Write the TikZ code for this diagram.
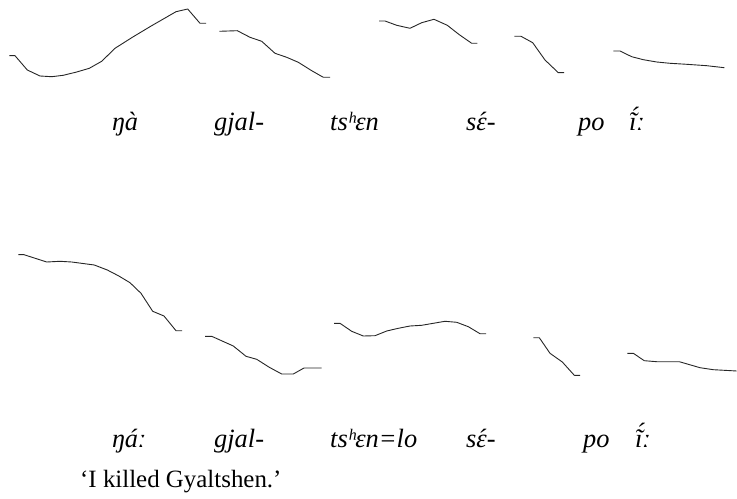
\documentclass[tikz,border=0pt]{standalone}
\usepackage{fontspec}
\setmainfont{Liberation Serif}
\usepackage{tikz}
\newcommand{\hiacc}[1]{\accent"00B4 #1}
\begin{document}
\begin{tikzpicture}[x=1bp,y=-1bp,
          every node/.style={font=\fontsize{25}{30}\selectfont,inner sep=0pt},
          syl/.style={anchor=base west,font=\fontsize{26.5}{30}\selectfont\itshape},
          pitch/.style={line width=0.9bp,line join=round,black!85},
      ]
        \useasboundingbox (0,0) rectangle (737,499);

        % first utterance: pitch traces
        \draw[pitch] (9.3,55.7) -- (15,55.7) -- (27.3,70) -- (40,76) -- (51.7,76.7) -- (63.3,75.3)
          -- (76.7,72) -- (89.3,68.3) -- (101.7,61.3) -- (115,48.3) -- (133.3,36.7) -- (151.7,25.7)
          -- (176,11.7) -- (187.7,9) -- (200,23.3) -- (206,23.3);
        \draw[pitch] (219.3,31.3) -- (237.3,30.7) -- (250,37.3) -- (261.7,41.3) -- (275,53.3)
          -- (286.7,57.3) -- (298.3,62.3) -- (311.7,70.7) -- (323.3,77.3) -- (330,77.3);
        \draw[pitch] (379,21) -- (385,21) -- (396.7,25.3) -- (410,28.3) -- (421.7,22.7) -- (434,19.3)
          -- (447.3,25.3) -- (459.3,34.7) -- (471.7,43.3) -- (477.3,43.3);
        \draw[pitch] (514.3,36.3) -- (521,36.3) -- (532.7,42.7) -- (545,60) -- (558.3,72.7) -- (564,72.7);
        \draw[pitch] (613.3,51) -- (620,51) -- (631.7,56.7) -- (643.3,59.7) -- (656.7,62) -- (670,63.3)
          -- (686.7,64.3) -- (706.7,65.7) -- (724.3,67.7);

        \node[syl] (nga1) at (112,131) {ŋà};
        \node[syl] (gjal1) at (214,131) {gjal-};
        \node[syl] (tshen1) at (330,131) {tsʰɛn};
        \node[syl] (se1) at (466,131) {s\hiacc{ɛ}-};
        \node[syl] (po1) at (578,131) {po};
        \node[syl] (i1) at (629,131) {\hiacc{ĩ}ː};

        % second utterance
        \draw[pitch] (18.3,254.7) -- (24,254.7) -- (46.7,262) -- (60,261.3) -- (71.7,262) -- (94.3,265)
          -- (107.3,270) -- (118.3,275.7) -- (130,282.7) -- (141,293.3) -- (152.7,311.3) -- (164,316)
          -- (176,330.7) -- (182,330.7);
        \draw[pitch] (205,336.3) -- (211.7,336.3) -- (233.3,346) -- (246,356.3) -- (256.7,359.3)
          -- (269.3,367.3) -- (281.7,374) -- (293.3,374) -- (304,368) -- (321.7,368);
        \draw[pitch] (334,323.3) -- (340,323.3) -- (351.7,331.3) -- (363.3,336) -- (375,335.7) -- (386.7,331)
          -- (398.3,328.3) -- (410,326) -- (421.7,325.3) -- (433.3,323.3) -- (445,321.3) -- (456.7,322.3)
          -- (468.3,326.7) -- (480,333.7) -- (486,333.7);
        \draw[pitch] (533.3,337.7) -- (539.3,337.7) -- (550,353.3) -- (562.3,362) -- (574.3,375.3) -- (580,375.3);
        \draw[pitch] (627.3,353.3) -- (633.3,353.3) -- (644.3,360.7) -- (656.7,361.7) -- (679.3,361.7)
          -- (700,367.7) -- (713.3,369.7) -- (736.7,371);

        \node[syl] (nga2) at (112,447) {ŋáː};
        \node[syl] (gjal2) at (214,447) {gjal-};
        \node[syl] (tshen2) at (330,447) {tsʰɛn=lo};
        \node[syl] (se2) at (466,447) {s\hiacc{ɛ}-};
        \node[syl] (po2) at (583,447) {po};
        \node[syl] (i2) at (635,447) {\hiacc{ĩ}ː};

        \node[anchor=base west] (gloss) at (80,487) {‘I killed Gyaltshen.’};
      \end{tikzpicture}
\end{document}
